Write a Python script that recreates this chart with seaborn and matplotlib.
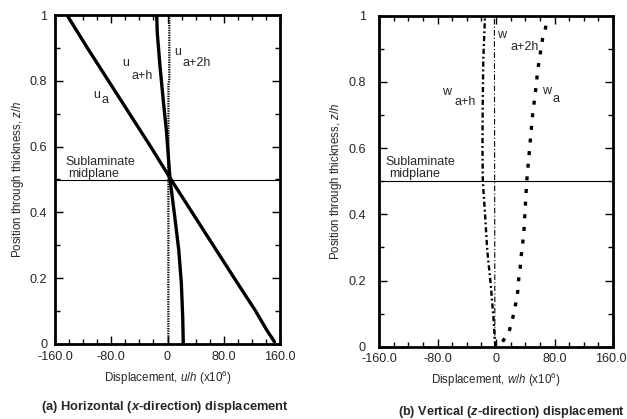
import matplotlib
matplotlib.use("Agg")
import matplotlib.pyplot as plt
import matplotlib.transforms as mtransforms
import seaborn as sns
import numpy as np
from matplotlib.ticker import MultipleLocator, FixedLocator

# ---------------- data ----------------
# (a) horizontal displacement u/h (x10^6) vs z/h
z_ua = [0.007, 0.043, 0.103, 0.2, 0.35, 0.5, 0.6, 0.7, 0.8, 0.9, 1.0]
u_a = [152, 141, 124.5, 95, 50, 5, -24, -54, -84, -114, -143]

z_uah = [0.0, 0.083, 0.185, 0.286, 0.387, 0.5, 0.64, 0.74, 0.843, 0.944, 1.0]
u_ah = [22.5, 21.6, 19.7, 16.0, 10.3, 3.6, -1.2, -6.0, -10.6, -14.5, -15.4]

z_ua2h = [0.0, 0.5, 0.79, 0.80, 1.0]
u_a2h = [1.2, 1.3, 1.4, 2.6, 2.6]

# (b) vertical displacement w/h (x10^6) vs z/h
z_wa = [0.015, 0.047, 0.078, 0.109, 0.141, 0.171, 0.204, 0.236, 0.268, 0.30,
        0.36, 0.40, 0.5, 0.6, 0.7, 0.77, 0.835, 0.9, 0.935, 0.965, 1.0]
w_a = [9, 18, 22, 25, 28, 30, 31, 33, 34, 36,
       38.5, 39.5, 42, 46, 50, 54, 57, 61.5, 64, 68, 70]

z_wah = [0.0, 0.09, 0.19, 0.29, 0.4, 0.5, 0.6, 0.725, 0.866, 1.0]
w_ah = [-1.0, -3.6, -7.3, -11.9, -15.0, -18.0, -18.5, -18.2, -17.4, -15.0]

z_wa2h = [0.0, 1.0]
w_a2h = [-1.5, -2.2]

x_ticks = [-160, -80, 0, 80, 160]
x_ticklabels = ["-160.0", "-80.0", "0", "80.0", "160.0"]
y_ticks = [0, 0.2, 0.4, 0.6, 0.8, 1.0]
y_ticklabels = ["0", "0.2", "0.4", "0.6", "0.8", "1"]

# ---------------- style ----------------
sns.set_theme(style="ticks")
plt.rcParams["font.family"] = ["Liberation Sans", "DejaVu Sans"]
plt.rcParams["mathtext.fontset"] = "custom"
plt.rcParams["mathtext.rm"] = "Liberation Sans"
plt.rcParams["mathtext.it"] = "Liberation Sans:italic"
plt.rcParams["mathtext.bf"] = "Liberation Sans:bold"
plt.rcParams["mathtext.bfit"] = "Liberation Sans:italic:bold"

fig = plt.figure(figsize=(6.27, 4.19), dpi=100)
axL = fig.add_axes([55/627, 1-344/419, 225/627, 329/419])
axR = fig.add_axes([379/627, 1-346.7/419, 234/627, 331/419])

TICK_FS = 9.1
LAB_FS = 8.3
TXT_FS = 9.0


def style_axis(ax, ypad, xpad):
    ax.set_xlim(-160, 160)
    ax.set_ylim(0, 1)
    ax.xaxis.set_major_locator(FixedLocator(x_ticks))
    ax.set_xticklabels(x_ticklabels)
    ax.yaxis.set_major_locator(FixedLocator(y_ticks))
    ax.set_yticklabels(y_ticklabels)
    ax.xaxis.set_minor_locator(MultipleLocator(20))
    ax.yaxis.set_minor_locator(MultipleLocator(0.1))
    ax.tick_params(which="both", direction="in", top=True, right=True,
                   color="black", width=1.0)
    ax.tick_params(which="major", length=5.5, labelsize=TICK_FS)
    ax.tick_params(axis="y", which="major", pad=ypad)
    ax.tick_params(axis="x", which="major", pad=xpad)
    ax.tick_params(which="minor", length=3.5)
    for s in ax.spines.values():
        s.set_linewidth(2.0)
        s.set_color("black")
        s.set_visible(True)
    ax.axhline(0.5, color="black", lw=0.8, zorder=1)
    ax.set_facecolor("white")


# ---------- left panel ----------
sns.lineplot(x=u_a, y=z_ua, sort=False, estimator=None, ax=axL,
             color="black", lw=2.4)
sns.lineplot(x=u_ah, y=z_uah, sort=False, estimator=None, ax=axL,
             color="black", lw=2.4)
sns.lineplot(x=u_a2h, y=z_ua2h, sort=False, estimator=None, ax=axL,
             color="black", lw=1.6, linestyle=(0, (0.6, 0.5)))
style_axis(axL, ypad=5.5, xpad=5.2)
axL.set_xlabel(r"Displacement, $\it{u/h}$ (x10$^{6}$)", fontsize=LAB_FS, labelpad=4)
axL.set_ylabel(r"Position through thickness, $\it{z/h}$", fontsize=LAB_FS, labelpad=3)


def ftext(x, y, s, fs=TXT_FS, **kw):
    fig.text(x/627, 1-y/419, s, fontsize=fs, ha="center", va="center", **kw)


ftext(97, 95, "u"); ftext(104.5, 100, "a")
ftext(126, 63, "u"); ftext(142, 76, "a+h")
ftext(178, 52, "u"); ftext(197, 63, "a+2h")
ftext(100, 161.5, "Sublaminate"); ftext(94, 173.5, "midplane")

# ---------- right panel ----------
sns.lineplot(x=w_a, y=z_wa, sort=False, estimator=None, ax=axR,
             color="black", lw=2.4, linestyle=(0, (1.2, 2.6)))
sns.lineplot(x=w_ah, y=z_wah, sort=False, estimator=None, ax=axR,
             color="black", lw=1.7, linestyle=(0, (2.2, 1.2, 0.8, 1.2)))
sns.lineplot(x=w_a2h, y=z_wa2h, sort=False, estimator=None, ax=axR,
             color="black", lw=0.8, linestyle=(0, (5, 2, 1, 2)))
style_axis(axR, ypad=9.5, xpad=4.5)
axR.set_xlabel(r"Displacement, $\it{w/h}$ (x10$^{6}$)", fontsize=LAB_FS, labelpad=4)
axR.set_ylabel(r"Position through thickness, $\it{z/h}$", fontsize=LAB_FS, labelpad=3)

# keep the last right-panel tick label inside the canvas
last = axR.get_xticklabels()[-1]
last.set_transform(last.get_transform() +
                   mtransforms.ScaledTranslation(-2.5/100, 0, fig.dpi_scale_trans))

ftext(501.7, 35, "w"); ftext(525, 47, "a+2h")
ftext(446.7, 92, "w"); ftext(465, 102, "a+h")
ftext(547, 91, "w"); ftext(555.7, 99, "a")
ftext(420, 162, "Sublaminate"); ftext(415, 174, "midplane")

# captions
ftext(165, 407, r"(a) Horizontal ($\mathbfit{x}$-direction) displacement",
      fs=9.3, fontweight="bold")
ftext(512, 412, r"(b) Vertical ($\mathbfit{z}$-direction) displacement",
      fs=9.1, fontweight="bold")

fig.savefig("out.png", dpi=100, facecolor="white")
